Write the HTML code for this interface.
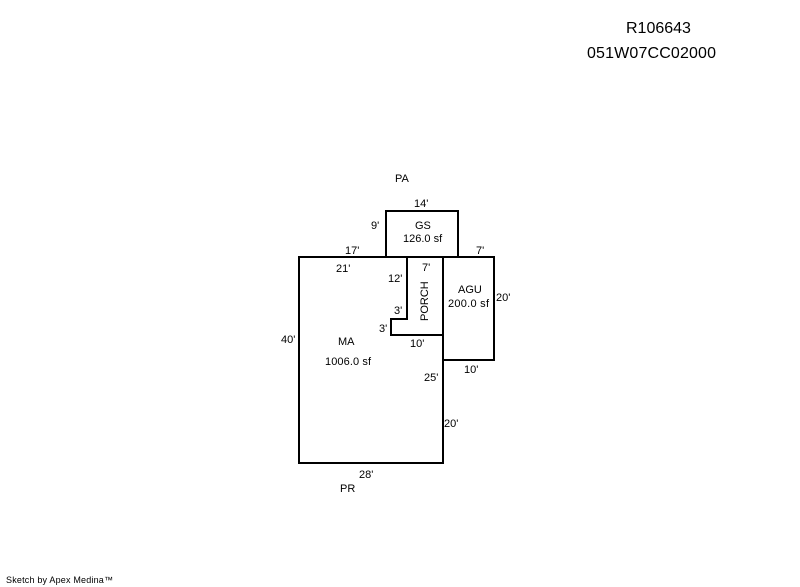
<!DOCTYPE html>
<html>
<head>
<meta charset="utf-8">
<style>
html,body{margin:0;padding:0;background:#fff;width:800px;height:587px;overflow:hidden}
svg{display:block}
text{font-family:"Liberation Sans",sans-serif;font-size:11px;fill:#000}
.t{font-size:16px}
.s{font-size:9px}
</style>
</head>
<body>
<svg width="800" height="587" viewBox="0 0 800 587" xmlns="http://www.w3.org/2000/svg">
<g fill="none" stroke="#000" stroke-width="2" shape-rendering="crispEdges">
<path d="M299 257H443V463H299Z"/>
<path d="M386 257V211H458V257"/>
<path d="M443 257H494V360H443"/>
<path d="M407 257V319H391V335H443"/>
</g>
<text class="t" x="626" y="33">R106643</text>
<text class="t" x="587" y="58" textLength="129" lengthAdjust="spacing">051W07CC02000</text>
<text x="395" y="182">PA</text>
<text x="414" y="207">14'</text>
<text x="371" y="229">9'</text>
<text x="415" y="229">GS</text>
<text x="403" y="242">126.0 sf</text>
<text x="345" y="254">17'</text>
<text x="476" y="254">7'</text>
<text x="336" y="272">21'</text>
<text x="422" y="271">7'</text>
<text x="388" y="282">12'</text>
<text x="458" y="293">AGU</text>
<text x="448" y="307" textLength="41" lengthAdjust="spacing">200.0 sf</text>
<text x="496" y="301">20'</text>
<text x="394" y="314">3'</text>
<text x="379" y="332">3'</text>
<text x="410" y="347">10'</text>
<text transform="translate(428 321) rotate(-90)">PORCH</text>
<text x="281" y="343">40'</text>
<text x="338" y="345">MA</text>
<text x="325" y="365" textLength="46" lengthAdjust="spacing">1006.0 sf</text>
<text x="464" y="373">10'</text>
<text x="424" y="381">25'</text>
<text x="444" y="427">20'</text>
<text x="359" y="478">28'</text>
<text x="340" y="492">PR</text>
<text class="s" x="6" y="583" textLength="107" lengthAdjust="spacing">Sketch by Apex Medina™</text>
</svg>
</body>
</html>
